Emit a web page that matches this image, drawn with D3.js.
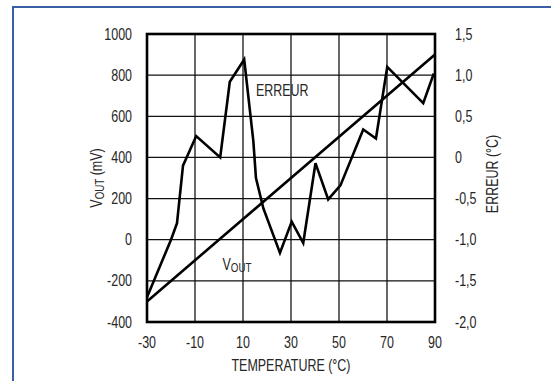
<!DOCTYPE html>
<html>
<head>
<meta charset="utf-8">
<script src="https://cdn.jsdelivr.net/npm/d3@7"></script>
<style>
  html, body { margin: 0; padding: 0; background: #fff; }
  svg { display: block; }
  text { font-family: "Liberation Sans Narrow", "Arial Narrow", "Liberation Sans", Arial, sans-serif; fill: #262626; }
</style>
</head>
<body>
<svg id="chart" width="551" height="381"></svg>
<script>
// Data
const xTicks = [-30, -10, 10, 30, 50, 70, 90];
const leftTicks = [1000, 800, 600, 400, 200, 0, -200, -400];
const rightTicks = [1.5, 1.0, 0.5, 0, -0.5, -1.0, -1.5, -2.0];
const rightTickLabels = ["1,5", "1,0", "0,5", "0", "-0,5", "-1,0", "-1,5", "-2,0"];

// VOUT (mV) vs temperature
const voutTemp = [-30, 90];
const voutMv = [-300, 900];

// Error (°C) vs temperature
const errTemp = [-30, -20, -17.5, -15, -9.5, 0.5, 4.5, 10.5, 14.3, 15.4, 18.5, 25.4, 30.3, 35.1, 40.2, 45.5, 50.6, 60.1, 65.4, 70.1, 85.1, 89.5];
const errC    = [-1.7, -1.0, -0.8, -0.1, 0.26, 0.0, 0.92, 1.19, 0.2, -0.25, -0.62, -1.16, -0.78, -1.04, -0.07, -0.51, -0.34, 0.34, 0.23, 1.10, 0.66, 1.02];

const svg = d3.select("#chart");

// blue frame
svg.append("line").attr("x1", 13).attr("y1", 7).attr("x2", 13).attr("y2", 381)
  .attr("stroke", "#3b5ea6").attr("stroke-width", 2);
svg.append("line").attr("x1", 12).attr("y1", 7).attr("x2", 551).attr("y2", 7)
  .attr("stroke", "#3b5ea6").attr("stroke-width", 2);

const L = 147, R = 435, T = 34, B = 322;
const x = d3.scaleLinear().domain([-30, 90]).range([L, R]);
const yL = d3.scaleLinear().domain([-400, 1000]).range([B, T]);
const yR = d3.scaleLinear().domain([-2, 1.5]).range([B, T]);

const FS = 16, SX = 0.78;

// grid
const g = svg.append("g");
g.selectAll("line.v").data(xTicks.slice(1, -1)).join("line")
  .attr("x1", d => x(d)).attr("x2", d => x(d)).attr("y1", T).attr("y2", B)
  .attr("stroke", "#000").attr("stroke-width", 1.2);
g.selectAll("line.h").data(leftTicks.slice(1, -1)).join("line")
  .attr("y1", d => yL(d)).attr("y2", d => yL(d)).attr("x1", L).attr("x2", R)
  .attr("stroke", "#111").attr("stroke-width", 1.2);

// data lines
const pathVout = d3.line().x(d => x(d[0])).y(d => yL(d[1]));
svg.append("path").datum(voutTemp.map((t, i) => [t, voutMv[i]]))
  .attr("d", pathVout).attr("fill", "none").attr("stroke", "#000").attr("stroke-width", 2.6);

const pathErr = d3.line().x(d => x(d[0])).y(d => yR(d[1]));
svg.append("path").datum(errTemp.map((t, i) => [t, errC[i]]))
  .attr("d", pathErr).attr("fill", "none").attr("stroke", "#000").attr("stroke-width", 2.6)
  .attr("stroke-linejoin", "miter");

// frame
svg.append("rect").attr("x", L).attr("y", T).attr("width", R - L).attr("height", B - T)
  .attr("fill", "none").attr("stroke", "#000").attr("stroke-width", 2.6);

// condensed text helper
function label(px, py, anchor, rot) {
  const t = svg.append("text")
    .attr("transform", `translate(${px},${py})${rot ? " rotate(" + rot + ")" : ""} scale(${SX},1)`)
    .attr("text-anchor", anchor).attr("font-size", FS);
  return t;
}

// tick labels
xTicks.forEach(d => label(x(d), 342, "middle").attr("dy", "0.35em").text(d));
leftTicks.forEach(d => label(132, yL(d), "end").attr("dy", "0.35em").text(d));
rightTicks.forEach((d, i) => label(455, yR(d), "start").attr("dy", "0.35em").text(rightTickLabels[i]));

// axis titles
label((L + R) / 2, 365, "middle").attr("dy", "0.35em").text("TEMPERATURE (°C)");

const yt = label(102, 178, "middle", -90);
yt.append("tspan").text("V");
yt.append("tspan").attr("font-size", 12.5).attr("dy", 1.5).text("OUT");
yt.append("tspan").attr("dy", -1.5).text(" (mV)");

label(498, 174, "middle", -90).text("ERREUR (°C)");

// inline labels
label(256, 96, "start").text("ERREUR");
const vl = label(222.5, 270, "start");
vl.append("tspan").text("V");
vl.append("tspan").attr("font-size", 12.5).attr("dy", 1.5).text("OUT");
</script>
</body>
</html>
